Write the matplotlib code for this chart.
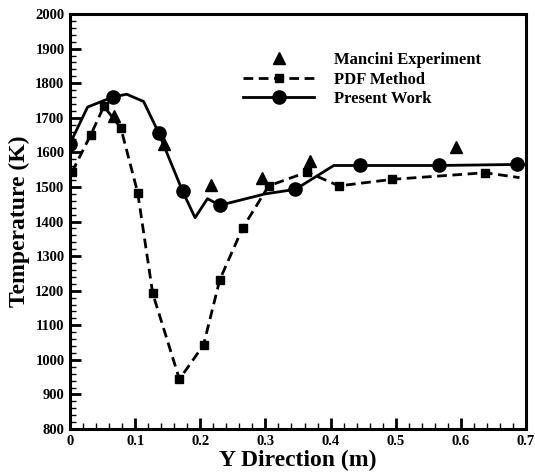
import matplotlib
matplotlib.use("Agg")
import matplotlib.pyplot as plt
from matplotlib.ticker import MultipleLocator, FuncFormatter

# Mancini experiment (triangles)
exp_y = [0.068, 0.144, 0.216, 0.294, 0.368, 0.593]
exp_t = [1705, 1625, 1505, 1525, 1575, 1615]

# PDF method (dashed line, squares)
pdf_y = [0.003, 0.032, 0.052, 0.078, 0.104, 0.127, 0.168, 0.205, 0.230,
         0.265, 0.305, 0.364, 0.413, 0.495, 0.637, 0.690]
pdf_t = [1543, 1651, 1733, 1671, 1483, 1192, 944, 1043, 1232,
         1381, 1503, 1543, 1503, 1522, 1541, 1527]
pdf_mark = [0.003, 0.032, 0.052, 0.078, 0.104, 0.127, 0.168, 0.205, 0.230,
            0.265, 0.305, 0.364, 0.413, 0.495, 0.637]
pdf_mark_t = [1543, 1651, 1733, 1671, 1483, 1192, 944, 1043, 1232,
              1381, 1503, 1543, 1503, 1522, 1541]

# Present work (solid line, circles)
pw_y = [0.0, 0.027, 0.066, 0.087, 0.113, 0.136, 0.173, 0.192, 0.211, 0.230,
        0.300, 0.346, 0.405, 0.445, 0.567, 0.686, 0.700]
pw_t = [1625, 1731, 1760, 1768, 1747, 1657, 1487, 1411, 1466, 1447,
        1480, 1493, 1562, 1562, 1562, 1565, 1565]
pw_mark = [0.0, 0.066, 0.136, 0.173, 0.230, 0.346, 0.445, 0.567, 0.686]
pw_mark_t = [1625, 1760, 1657, 1487, 1447, 1493, 1562, 1562, 1565]

plt.rcParams['font.family'] = ['Liberation Serif', 'DejaVu Serif']
plt.rcParams['font.weight'] = 'bold'

fig = plt.figure(figsize=(5.35, 4.75), dpi=100)
ax = fig.add_axes([0.1308, 0.0968, 0.8524, 0.8737])

LW = 2.0
ax.plot(exp_y, exp_t, linestyle='none', marker='^', color='black',
        markersize=8, label='Mancini Experiment')

ax.plot(pdf_y, pdf_t, color='black', lw=LW, dashes=(3.5, 2))
ax.plot(pdf_mark, pdf_mark_t, linestyle='none', marker='s', color='black',
        markersize=6)
ax.plot([], [], color='black', lw=LW, dashes=(3.5, 2), marker='s',
        markersize=6, label='PDF Method')

ax.plot(pw_y, pw_t, color='black', lw=LW)
ax.plot(pw_mark, pw_mark_t, linestyle='none', marker='o', color='black',
        markersize=9.5)
ax.plot([], [], color='black', lw=LW, marker='o', markersize=9.5,
        label='Present Work')

ax.set_xlim(0, 0.7)
ax.set_ylim(800, 2000)
ax.xaxis.set_major_locator(MultipleLocator(0.1))
ax.xaxis.set_minor_locator(MultipleLocator(0.02))
ax.yaxis.set_major_locator(MultipleLocator(100))
ax.yaxis.set_minor_locator(MultipleLocator(20))
ax.xaxis.set_major_formatter(FuncFormatter(
    lambda v, p: '0' if abs(v) < 1e-9 else '%.1f' % v))
ax.yaxis.set_major_formatter(FuncFormatter(lambda v, p: '%d' % round(v)))

ax.tick_params(which='both', direction='in', top=False, right=False)
ax.tick_params(which='major', length=8, width=2, labelsize=10.5, pad=4)
ax.tick_params(which='minor', length=4, width=1)
for lab in ax.get_xticklabels() + ax.get_yticklabels():
    lab.set_fontweight('bold')
for s in ax.spines.values():
    s.set_linewidth(2.2)

ax.set_xlabel('Y Direction (m)', fontsize=17, fontweight='bold', labelpad=2)
ax.set_ylabel('Temperature (K)', fontsize=17, fontweight='bold', labelpad=4)

leg = ax.legend(loc='upper left', bbox_to_anchor=(0.379, 0.908), frameon=False,
                fontsize=12, handlelength=4.3, handletextpad=1.2,
                borderpad=0, borderaxespad=0, labelspacing=0.2)
for t in leg.get_texts():
    t.set_fontweight('bold')

fig.savefig('out.png', dpi=100, facecolor='white')
